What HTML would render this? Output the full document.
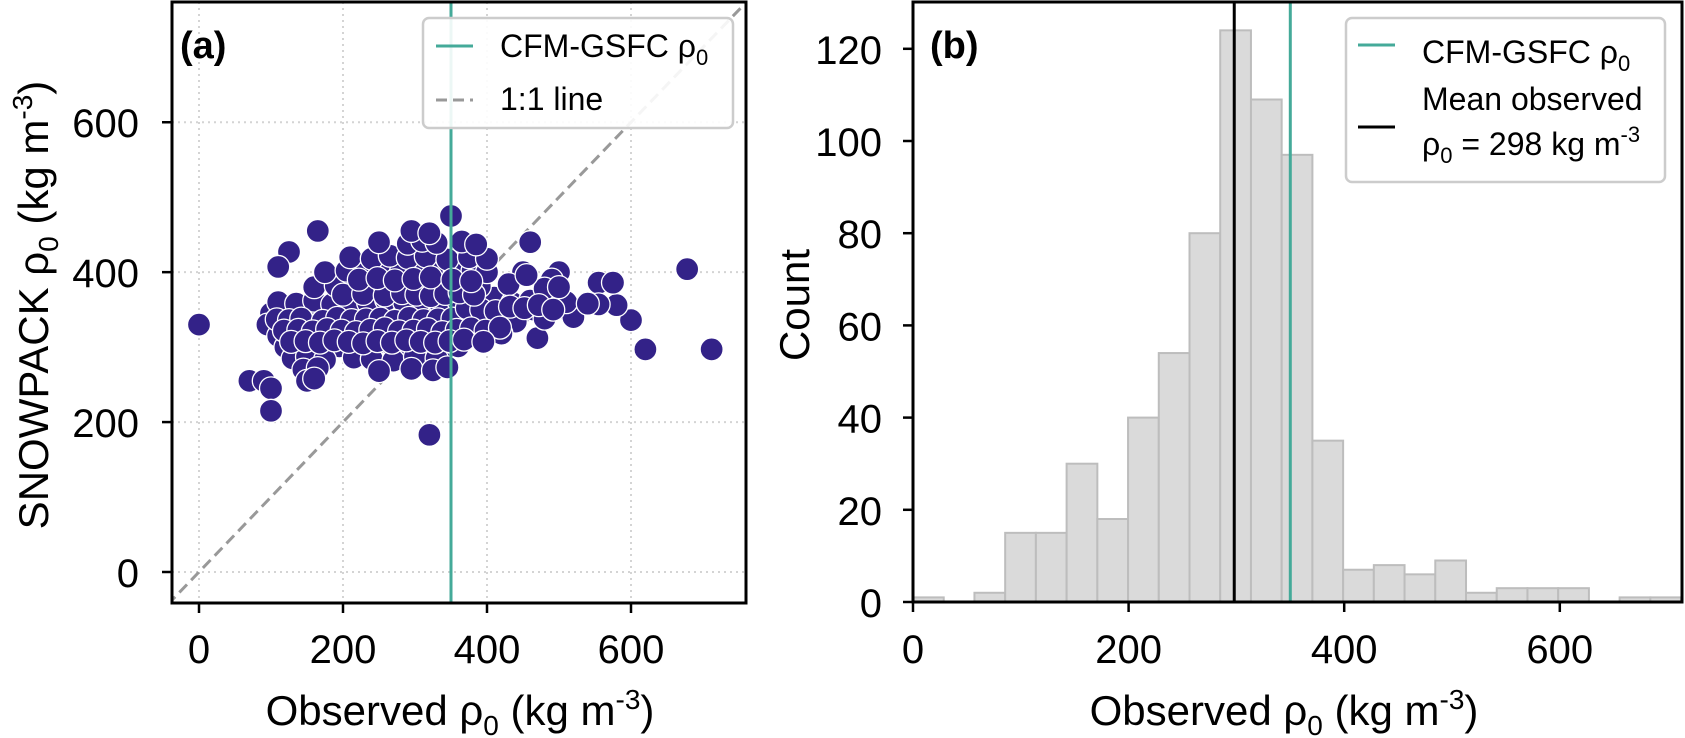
<!DOCTYPE html>
<html><head><meta charset="utf-8">
<style>
html,body{margin:0;padding:0;background:#fff;}
svg{display:block;font-family:"Liberation Sans",Arial,sans-serif;}
</style></head>
<body>
<svg id="fig" width="1685" height="738" viewBox="0 0 1685 738">
  <g id="pa"></g>
  <g id="pb"></g>
</svg>
<script>
// ---------- Panel (a) data ----------
const scatterObs = [0,70,90,100,100,320,620,712,678,600,580,555,575,555,470,460,350,165,125,110,500,490,450,
 100,115,130,150,165,185,205,225,245,265,285,305,325,345,365,385,405,425,445,465,485,505,
 95,120,140,160,180,200,220,240,260,280,300,320,340,360,380,400,420,440,480,520,
 110,135,160,185,210,235,260,285,310,335,360,385,410,435,460,490,510,540,
 110,130,150,175,200,225,250,275,300,325,345,365,390,420,
 120,145,170,195,220,245,270,295,320,340,360,
 130,150,175,215,240,270,300,330,
 145,165,250,295,325,345,
 160,190,215,240,265,290,315,340,365,390,430,480,500,
 175,205,230,255,280,305,330,355,380,400,455,
 210,240,265,290,315,345,375,400,
 250,290,310,330,365,385,295,320,150,160,
 108,125,142,172,192,212,232,252,272,292,312,332,352,372,392,412,432,452,472,492,
 118,138,158,178,198,218,238,258,278,298,318,338,358,378,398,418,
 128,148,168,188,208,228,248,268,288,308,328,348,368,395,
 200,228,258,282,302,322,342,362,382,
 222,248,272,298,322,352,378];
const scatterSim = [330,255,255,245,215,183,297,297,404,336,356,386,386,357,312,440,475,455,427,407,400,390,400,
 345,342,348,344,346,340,347,343,349,345,341,346,344,348,342,345,340,347,343,350,346,352,
 330,328,333,329,332,327,331,334,330,328,333,329,331,335,330,332,328,334,338,340,
 360,358,362,357,361,359,363,360,364,358,362,361,366,359,362,365,360,358,
 315,318,313,317,314,316,312,318,315,317,313,316,314,318,
 300,302,298,301,299,303,300,297,302,298,301,
 285,287,283,286,284,282,287,285,
 270,272,268,271,269,273,
 380,382,378,381,379,383,380,382,378,381,384,378,380,
 400,402,398,401,399,403,400,398,402,400,396,
 420,418,422,419,421,417,420,418,
 440,438,442,439,441,437,455,452,255,258,
 337,336,338,335,339,336,337,338,335,339,336,337,338,352,350,348,354,352,356,350,
 322,323,321,324,322,320,323,325,321,322,324,320,323,325,322,326,
 307,308,306,309,307,305,308,306,309,307,306,308,310,307,
 370,371,369,372,370,368,371,373,370,
 390,392,389,391,393,390,388];
const aTicks = [0,200,400,600];
const aTickLabels = ["0","200","400","600"];
const cfmRho = 350;

// ---------- Panel (b) data ----------
const binStart = 0, binWidth = 28.5;
const counts = [1,0,2,15,15,30,18,40,54,80,124,109,97,35,7,8,6,9,2,3,3,3,0,1,1];
const bxTicks = [0,200,400,600];
const bxTickLabels = ["0","200","400","600"];
const byTicks = [0,20,40,60,80,100,120];
const byTickLabels = ["0","20","40","60","80","100","120"];
const meanObs = 298;

const NS = "http://www.w3.org/2000/svg";
function el(tag, attrs, parent, text){
  const e = document.createElementNS(NS, tag);
  for (const k in attrs) e.setAttribute(k, attrs[k]);
  if (text !== undefined) e.textContent = text;
  parent.appendChild(e);
  return e;
}
const TEAL = "#44aa99";

// ===== Panel A =====
const pa = document.getElementById('pa');
const aL=172, aR=746, aT=2, aB=603;
const ax = v => 199 + (v - 0) * 0.72;
const ay = v => 572 - v * 0.7496;
const defs = el('defs',{},pa);
const cpa = el('clipPath',{id:'clipA'},defs);
el('rect',{x:aL,y:aT,width:aR-aL,height:aB-aT},cpa);
const cpb = el('clipPath',{id:'clipB'},defs);
el('rect',{x:913,y:2,width:1682-913,height:600},cpb);

aTicks.forEach((t,i)=>{
  const g1 = el('line',{x1:ax(t),x2:ax(t),y1:aT,y2:aB,stroke:'#d4d4d4','stroke-width':2,'stroke-dasharray':'2,4'},pa);
  
  
  const g2 = el('line',{x1:aL,x2:aR,y1:ay(t),y2:ay(t),stroke:'#d4d4d4','stroke-width':2,'stroke-dasharray':'2,4'},pa);
  
  
});
const oneone = el('line',{x1:ax(-60),y1:ay(-60),x2:ax(800),y2:ay(800),stroke:'#999','stroke-width':3,'stroke-dasharray':'11,6','clip-path':'url(#clipA)'},pa);


const ptsG = el('g',{'clip-path':'url(#clipA)'},pa);


scatterObs.forEach((x,i)=>{
  const c = el('circle',{cx:ax(x),cy:ay(scatterSim[i]),r:11.5,fill:'#332288',stroke:'#fff','stroke-width':1.3},ptsG);
  
  
});
const cfmA = el('line',{x1:ax(cfmRho),x2:ax(cfmRho),y1:aT,y2:aB,stroke:TEAL,'stroke-width':3},pa);


const frameA = el('rect',{x:aL,y:aT,width:aR-aL,height:aB-aT,fill:'none',stroke:'#000','stroke-width':3},pa);


aTicks.forEach((t,i)=>{
  el('line',{x1:ax(t),x2:ax(t),y1:aB,y2:aB+10,stroke:'#000','stroke-width':2.5},pa);
  const xl = el('text',{x:ax(t),y:663,'font-size':40,'text-anchor':'middle'},pa,aTickLabels[i]);
  
  
  el('line',{x1:aL-10,x2:aL,y1:ay(t),y2:ay(t),stroke:'#000','stroke-width':2.5},pa);
  const yl = el('text',{x:139,y:ay(t)+15,'font-size':40,'text-anchor':'end'},pa,aTickLabels[i]);
  
  
});
</script>
<script>
(function(){
  const pa = document.getElementById('pa');
  pa.insertAdjacentHTML('beforeend',
  '<text x="180" y="58" font-size="38" font-weight="bold">(a)</text>'+
  '<g>'+
   '<rect x="423" y="18" width="310" height="110" rx="6" fill="#fff" fill-opacity="0.9" stroke="#cccccc" stroke-width="2.5"/>'+
   '<line x1="436" x2="473" y1="46" y2="46" stroke="#44aa99" stroke-width="3"/>'+
   '<text x="500" y="57" font-size="32">CFM-GSFC ρ<tspan font-size="22" dy="8">0</tspan></text>'+
   '<line x1="436" x2="473" y1="100" y2="100" stroke="#999" stroke-width="3" stroke-dasharray="11,6"/>'+
   '<text x="500" y="110" font-size="32">1:1 line</text>'+
  '</g>'+
  '<text x="460" y="725" font-size="42" text-anchor="middle">Observed ρ<tspan font-size="28" dy="10">0</tspan><tspan dy="-10"> (kg m</tspan><tspan font-size="28" dy="-16">-3</tspan><tspan dy="16">)</tspan></text>'+
  '<text transform="translate(48,305) rotate(-90)" font-size="42" text-anchor="middle">SNOWPACK ρ<tspan font-size="28" dy="10">0</tspan><tspan dy="-10"> (kg m</tspan><tspan font-size="28" dy="-16">-3</tspan><tspan dy="16">)</tspan></text>');
})();
</script>
<script>
(function(){
const NS = "http://www.w3.org/2000/svg";
function el(tag, attrs, parent, text){
  const e = document.createElementNS(NS, tag);
  for (const k in attrs) e.setAttribute(k, attrs[k]);
  if (text !== undefined) e.textContent = text;
  parent.appendChild(e);
  return e;
}
const pb = document.getElementById('pb');
const bL=913, bR=1682, bT=2, bB=602;
const bx = v => 913 + v * 1.078;
const by = v => 602 - v * 4.61;
const barsG = el('g',{'clip-path':'url(#clipB)'},pb);


counts.forEach((c,i)=>{
  const x0 = bx(binStart + i*binWidth), x1 = bx(binStart + (i+1)*binWidth);
  const r = el('rect',{x:x0,y:by(c),width:x1-x0,height:by(0)-by(c),fill:'#dadada',stroke:'#bdbdbd','stroke-width':2},barsG);
  
  
});
const mean = el('line',{x1:bx(meanObs),x2:bx(meanObs),y1:bT,y2:bB,stroke:'#000','stroke-width':3},pb);


const cfm = el('line',{x1:bx(cfmRho),x2:bx(cfmRho),y1:bT,y2:bB,stroke:'#44aa99','stroke-width':3},pb);


const frame = el('rect',{x:bL,y:bT,width:bR-bL,height:bB-bT,fill:'none',stroke:'#000','stroke-width':3},pb);


bxTicks.forEach((t,i)=>{
  el('line',{x1:bx(t),x2:bx(t),y1:bB,y2:bB+10,stroke:'#000','stroke-width':2.5},pb);
  const l = el('text',{x:bx(t),y:663,'font-size':40,'text-anchor':'middle'},pb,bxTickLabels[i]);
  
  
});
byTicks.forEach((t,i)=>{
  el('line',{x1:bL-10,x2:bL,y1:by(t),y2:by(t),stroke:'#000','stroke-width':2.5},pb);
  const l = el('text',{x:882,y:by(t)+15,'font-size':40,'text-anchor':'end'},pb,byTickLabels[i]);
  
  
});
pb.insertAdjacentHTML('beforeend',
 '<text x="930" y="58" font-size="38" font-weight="bold">(b)</text>'+
 '<g>'+
  '<rect x="1346" y="18" width="319" height="164" rx="6" fill="#fff" fill-opacity="0.9" stroke="#cccccc" stroke-width="2.5"/>'+
  '<line x1="1358" x2="1395" y1="45" y2="45" stroke="#44aa99" stroke-width="3"/>'+
  '<text x="1422" y="63" font-size="32">CFM-GSFC ρ<tspan font-size="22" dy="8">0</tspan></text>'+
  '<line x1="1358" x2="1395" y1="127" y2="127" stroke="#000" stroke-width="3"/>'+
  '<text x="1422" y="110" font-size="32">Mean observed</text>'+
  '<text x="1422" y="155" font-size="32">ρ<tspan font-size="22" dy="8">0</tspan><tspan dy="-8"> = 298 kg m</tspan><tspan font-size="22" dy="-13">-3</tspan></text>'+
 '</g>'+
 '<text x="1284" y="725" font-size="42" text-anchor="middle">Observed ρ<tspan font-size="28" dy="10">0</tspan><tspan dy="-10"> (kg m</tspan><tspan font-size="28" dy="-16">-3</tspan><tspan dy="16">)</tspan></text>'+
 '<text transform="translate(809,305) rotate(-90)" font-size="42" text-anchor="middle">Count</text>');
})();
</script>
</body></html>
